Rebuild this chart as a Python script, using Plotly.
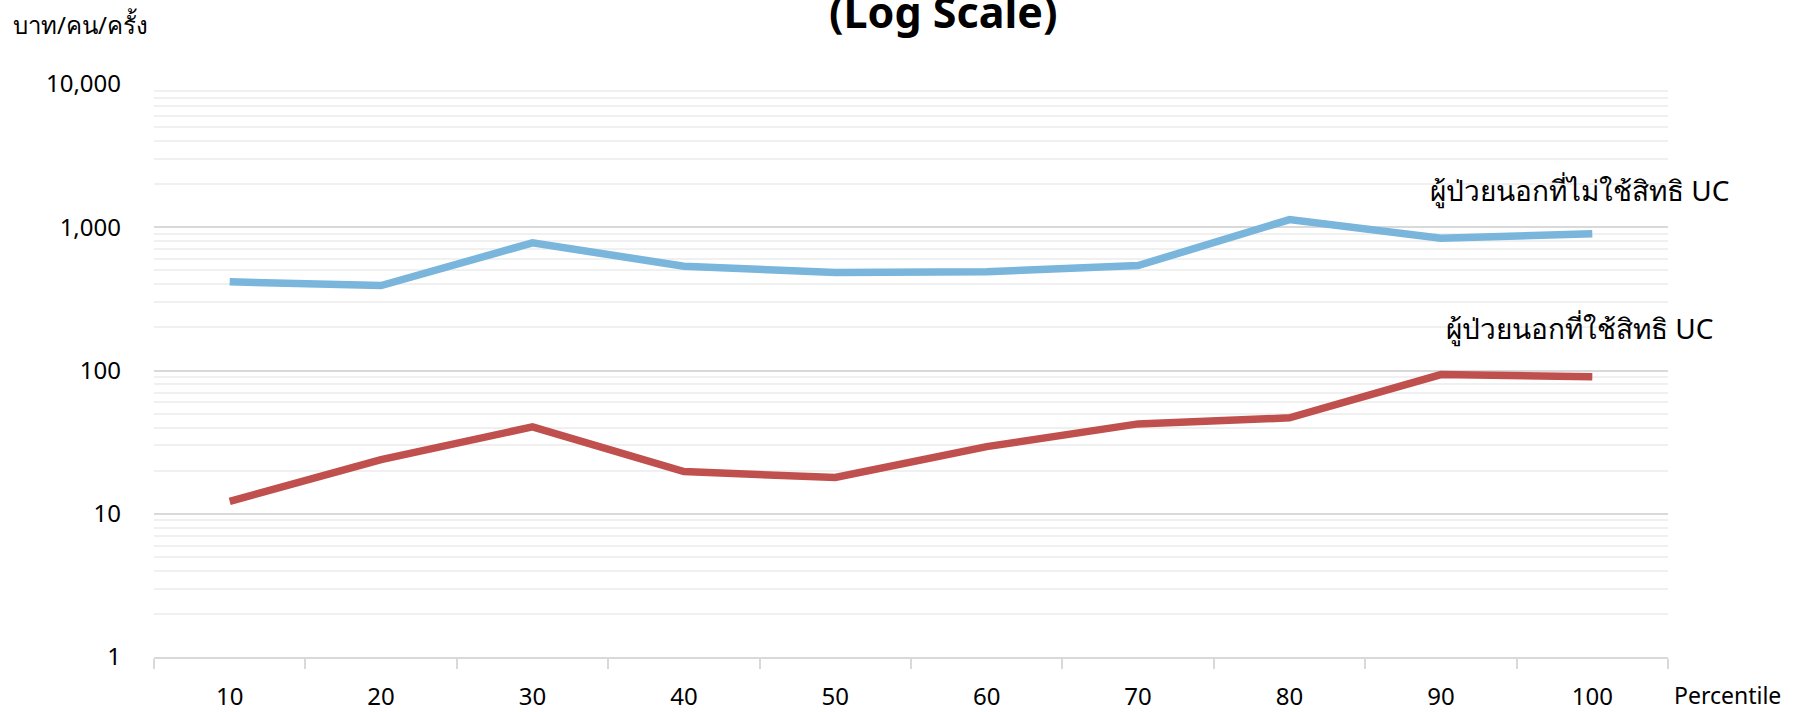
import plotly.graph_objects as go

percentiles = ["10", "20", "30", "40", "50", "60", "70", "80", "90", "100"]
non_uc = [416, 392, 778, 535, 483, 489, 540, 1132, 838, 899]
uc = [12.2, 23.9, 40.4, 19.7, 17.9, 29.4, 42.4, 46.7, 93.6, 90.6]
name_non_uc = "ผู้ป่วยนอกที่ไม่ใช้สิทธิ UC"
name_uc = "ผู้ป่วยนอกที่ใช้สิทธิ UC"
y_title = "บาท/คน/ครั้ง"
x_title = "Percentile"
chart_title = "(Log Scale)"
y_tickvals = [1, 10, 100, 1000, 10000]

FONT = "Noto Sans, Roboto, sans-serif"
BLUE = "#7AB5DC"
RED = "#C0504D"

minor_vals = [m * 10 ** d for d in range(4) for m in range(2, 10)]
last_idx = len(percentiles) - 1

fig = go.Figure()
fig.add_trace(go.Scatter(x=percentiles, y=non_uc, mode="lines", name=name_non_uc,
                         line=dict(color=BLUE, width=7.5)))
fig.add_trace(go.Scatter(x=percentiles, y=uc, mode="lines", name=name_uc,
                         line=dict(color=RED, width=7.5)))

fig.update_layout(
    width=1816, height=712,
    margin=dict(l=154, r=148, t=84, b=55),
    plot_bgcolor="white", paper_bgcolor="white",
    showlegend=False,
    font=dict(family=FONT, size=24, color="#000000"),
    separators=".,",
    xaxis=dict(type="category", tickson="boundaries", ticks="outside", ticklen=10,
               tickcolor="#d9d9d9", tickwidth=1.5, showline=True, linecolor="#d9d9d9",
               linewidth=1.5, showgrid=False, tickfont=dict(size=24),
               ticklabelstandoff=17, range=[-0.5, 9.5], automargin=False),
    xaxis2=dict(overlaying="x", anchor="y", range=[0, 10], dtick=1, tick0=0,
                ticks="inside", ticklen=10, tickcolor="#d9d9d9", tickwidth=1.5,
                showticklabels=False, showgrid=False, zeroline=False, showline=False,
                automargin=False),
    yaxis=dict(type="log", range=[0, 4], tickvals=y_tickvals, tickformat=",",
               showgrid=True, gridcolor="#d9d9d9", gridwidth=1.5, ticks="",
               showline=False, zeroline=False, tickfont=dict(size=24),
               ticklabelstandoff=32, automargin=False,
               minor=dict(tickvals=minor_vals, showgrid=True, gridcolor="#f0f0f0",
                          gridwidth=1.5, ticks="")),
)

fig.add_annotation(text=name_non_uc, xref="x", yref="y", x=last_idx, y=3.259,
                   xshift=-13, showarrow=False, font=dict(size=28))
fig.add_annotation(text=name_uc, xref="x", yref="y", x=last_idx, y=2.300,
                   xshift=-13, showarrow=False, font=dict(size=28))
fig.add_annotation(text=x_title, xref="paper", yref="paper", x=1, y=0,
                   xanchor="left", yanchor="middle", xshift=4, yshift=-38,
                   showarrow=False, font=dict(size=23))
fig.add_annotation(text=y_title, xref="paper", yref="paper", x=0, y=1,
                   xanchor="left", yanchor="bottom", xshift=-143, yshift=41,
                   showarrow=False, font=dict(size=24))
fig.add_annotation(text="<b>" + chart_title + "</b>", xref="paper", yref="paper",
                   x=(943.5 - 154) / (1816 - 154 - 148), y=1, xanchor="center",
                   yanchor="bottom", yshift=41, showarrow=False,
                   font=dict(size=43))

fig.write_html("out.html", config={"displayModeBar": False},
               post_script="document.body.style.margin='0';")
